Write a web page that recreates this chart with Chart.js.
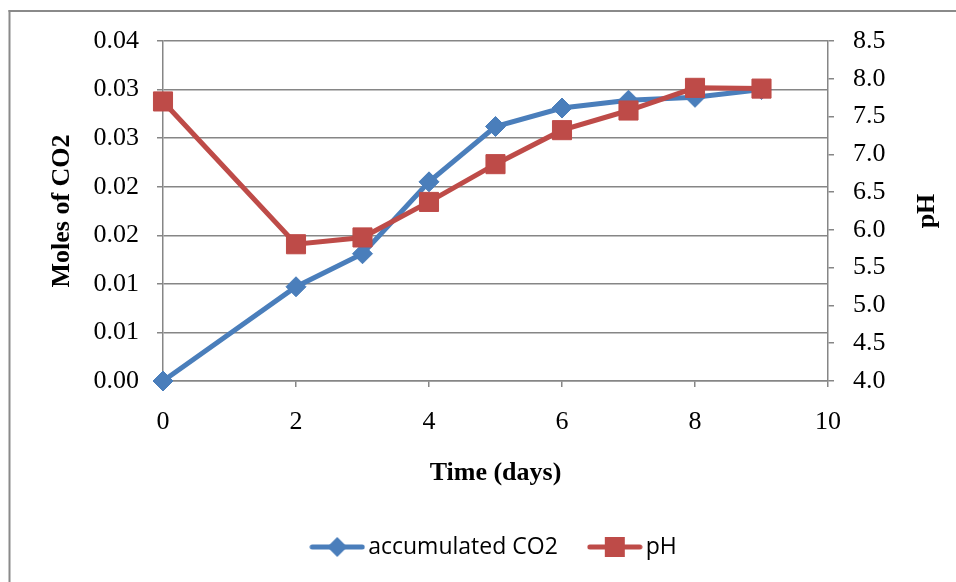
<!DOCTYPE html>
<html>
<head>
<meta charset="UTF-8">
<title>Accumulated CO2 and pH</title>
<script src="https://cdn.jsdelivr.net/npm/chart.js"></script>
<style>
  html, body { margin: 0; padding: 0; background: #fff; }
</style>
</head>
<body>
<canvas id="co2Chart" width="956" height="582"></canvas>
<script>
const days = [0, 2, 3, 4, 5, 6, 7, 8, 9];
const co2Moles = [0, 0.0097, 0.0131, 0.0205, 0.0262, 0.0281, 0.0289, 0.0292, 0.0300];
const phValues = [7.70, 5.81, 5.90, 6.37, 6.87, 7.32, 7.58, 7.88, 7.87];
const co2TickLabels = ['0.00', '0.01', '0.01', '0.02', '0.02', '0.03', '0.03', '0.04'];
const phTickLabels = ['4.0', '4.5', '5.0', '5.5', '6.0', '6.5', '7.0', '7.5', '8.0', '8.5'];

const blue = '#4A7EBB';
const red = '#BE4B48';
const gray = '#868686';
const serif = 'Liberation Serif';

// little line + marker pictures for the legend
function legendPic(color, marker) {
    const c = document.createElement('canvas');
    c.width = 56; c.height = 24;
    const g = c.getContext('2d');
    g.strokeStyle = color; g.fillStyle = color;
    g.lineWidth = 5; g.lineCap = 'round';
    g.beginPath(); g.moveTo(3, 12); g.lineTo(53, 12); g.stroke();
    g.beginPath();
    if (marker === 'diamond') {
        g.moveTo(28, 2); g.lineTo(38, 12); g.lineTo(28, 22); g.lineTo(18, 12);
    } else {
        g.rect(18, 2, 20, 20);
    }
    g.closePath(); g.fill();
    return c;
}
const legendPics = [legendPic(blue, 'diamond'), legendPic(red, 'square')];

const frameAndTitle = {
    id: 'frameAndTitle',
    beforeDraw(chart) {
        const ctx = chart.ctx;
        ctx.save();
        ctx.fillStyle = '#fff';
        ctx.fillRect(0, 0, chart.width, chart.height);
        ctx.fillStyle = '#8a8a8a';
        ctx.fillRect(8.5, 10, 2, chart.height);
        ctx.fillRect(8.5, 10, chart.width, 2);
        ctx.restore();
    },
    afterDraw(chart) {
        const ctx = chart.ctx;
        const area = chart.chartArea;
        ctx.save();
        ctx.translate(chart.scales.y1.right - 29, (area.top + area.bottom) / 2);
        ctx.rotate(-Math.PI / 2);
        ctx.font = 'bold 26px "' + serif + '"';
        ctx.fillStyle = '#000';
        ctx.textAlign = 'center';
        ctx.textBaseline = 'middle';
        ctx.fillText('pH', 0, 0);
        ctx.restore();
    }
};

const ctx = document.getElementById('co2Chart').getContext('2d');
const chart = new Chart(ctx, {
    type: 'line',
    data: {
        datasets: [{
            label: 'accumulated CO2',
            data: days.map((d, i) => ({x: d, y: co2Moles[i]})),
            yAxisID: 'y',
            borderColor: blue,
            backgroundColor: blue,
            borderWidth: 5,
            pointStyle: 'rectRot',
            pointRadius: 10,
            pointBorderWidth: 1,
            clip: false,
            order: 1
        }, {
            label: 'pH',
            data: days.map((d, i) => ({x: d, y: phValues[i]})),
            yAxisID: 'y1',
            borderColor: red,
            backgroundColor: red,
            borderWidth: 5,
            pointStyle: 'rect',
            pointRadius: 13.5,
            pointBorderWidth: 1,
            clip: false,
            order: 0
        }]
    },
    options: {
        responsive: false,
        animation: false,
        layout: {
            padding: {left: 38.5, right: 0, top: 41, bottom: 13.5}
        },
        scales: {
            x: {
                type: 'linear',
                min: 0,
                max: 10,
                ticks: {stepSize: 2, color: '#000', padding: 20, font: {family: serif, size: 26}},
                grid: {drawOnChartArea: false, tickLength: 6, tickColor: gray, lineWidth: 1.5},
                border: {color: gray, width: 1.5},
                title: {display: true, text: 'Time (days)', color: '#000',
                        font: {family: serif, size: 26, weight: 'bold'}, padding: {top: 0, bottom: 9.4}},
                afterFit(scale) { scale.height = 117; }
            },
            y: {
                position: 'left',
                min: 0,
                max: 0.035,
                ticks: {stepSize: 0.005, color: '#000', padding: 18, font: {family: serif, size: 26},
                        callback: (v, i) => co2TickLabels[i]},
                grid: {color: gray, lineWidth: 1.5, tickLength: 6},
                border: {color: gray, width: 1.5},
                title: {display: true, text: 'Moles of CO2', color: '#000',
                        font: {family: serif, size: 26, weight: 'bold'}, padding: {top: 7.9, bottom: 0}},
                afterFit(scale) { scale.width = 124.5; }
            },
            y1: {
                position: 'right',
                min: 4,
                max: 8.5,
                ticks: {stepSize: 0.5, color: '#000', padding: 19, font: {family: serif, size: 26},
                        callback: (v, i) => phTickLabels[i]},
                grid: {drawOnChartArea: false, tickLength: 6, tickColor: gray, lineWidth: 1.5},
                border: {color: gray, width: 1.5},
                afterFit(scale) { scale.width = 128; }
            }
        },
        plugins: {
            tooltip: {enabled: false},
            legend: {
                position: 'bottom',
                labels: {
                    usePointStyle: true,
                    pointStyleWidth: 39,
                    padding: 37.5,
                    color: '#000',
                    font: {family: 'Open Sans', size: 23},
                    generateLabels(chart) {
                        const items = Chart.defaults.plugins.legend.labels.generateLabels(chart);
                        items.sort((a, b) => a.datasetIndex - b.datasetIndex);
                        items.forEach(it => { it.pointStyle = legendPics[it.datasetIndex]; });
                        return items;
                    }
                }
            }
        }
    },
    plugins: [frameAndTitle]
});
</script>
</body>
</html>
